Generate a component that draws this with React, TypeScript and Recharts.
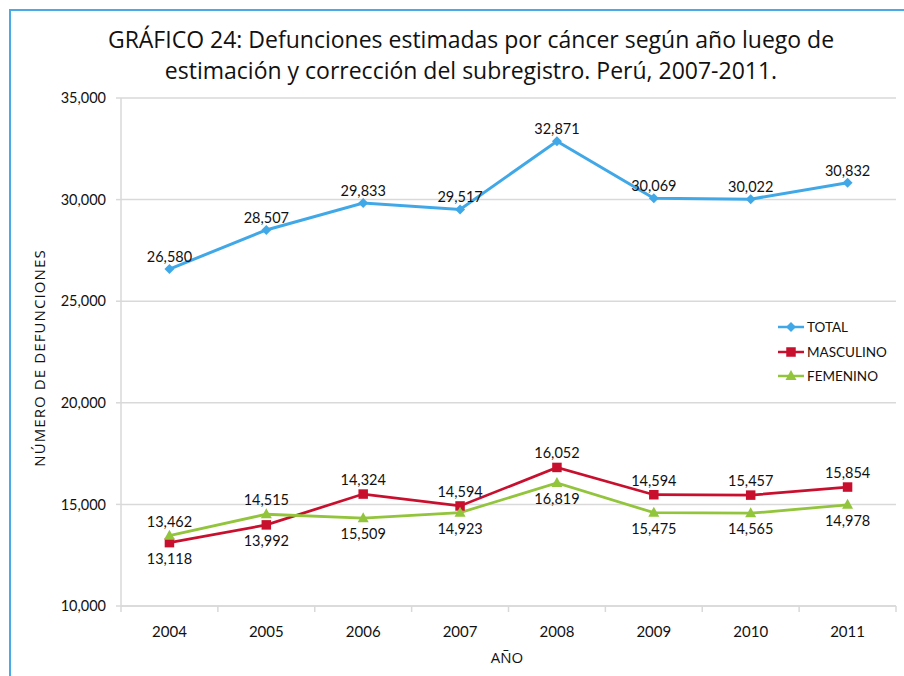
import React from 'react';
import { LineChart, Line, XAxis, YAxis, CartesianGrid, LabelList, Legend } from 'recharts';

const years = ['2004', '2005', '2006', '2007', '2008', '2009', '2010', '2011'];
const total = [26580, 28507, 29833, 29517, 32871, 30069, 30022, 30832];
const masculino = [13118, 13992, 15509, 14923, 16819, 15475, 15457, 15854];
const femenino = [13462, 14515, 14324, 14594, 16052, 14594, 14565, 14978];
const totalLabels = ['26,580', '28,507', '29,833', '29,517', '32,871', '30,069', '30,022', '30,832'];
const masculinoLabels = ['13,118', '13,992', '14,324', '14,594', '16,052', '14,594', '15,457', '15,854'];
const masculinoSides = ['below', 'below', 'above', 'above', 'above', 'above', 'above', 'above'];
const femeninoLabels = ['13,462', '14,515', '15,509', '14,923', '16,819', '15,475', '14,565', '14,978'];
const femeninoSides = ['above', 'above', 'below', 'below', 'below', 'below', 'below', 'below'];
const yTicks = [10000, 15000, 20000, 25000, 30000, 35000];

const titleLines = [
  'GRÁFICO 24: Defunciones estimadas por cáncer según año luego de',
  'estimación y corrección del subregistro. Perú, 2007-2011.',
];
const yTitle = 'NÚMERO DE DEFUNCIONES';
const xTitle = 'AÑO';

const data = years.map((y, i) => ({
  year: y,
  total: total[i],
  masculino: masculino[i],
  femenino: femenino[i],
}));

const W = 904;
const H = 676;
const M = { top: 98, right: 8, bottom: 30, left: 61 };
const Y_W = 60;
const X_H = 40;
const BAND = (W - M.left - Y_W - M.right) / years.length;

const C_TOTAL = '#41A8E8';
const C_MASC = '#C8102E';
const C_FEM = '#92C43C';
const GRID = '#d9d9d9';
const FONT = 'Lato, "Open Sans", sans-serif';
const TFONT = '"Open Sans", sans-serif';

const Diamond = (props: any) => {
  const { cx, cy, fill } = props;
  if (cx == null || cy == null) return null;
  const r = 5;
  return <path d={`M${cx},${cy - r}L${cx + r},${cy}L${cx},${cy + r}L${cx - r},${cy}Z`} fill={fill} />;
};
const Square = (props: any) => {
  const { cx, cy, fill } = props;
  if (cx == null || cy == null) return null;
  const s = 9.5;
  return <rect x={cx - s / 2} y={cy - s / 2} width={s} height={s} fill={fill} />;
};
const Triangle = (props: any) => {
  const { cx, cy, fill } = props;
  if (cx == null || cy == null) return null;
  return <path d={`M${cx},${cy - 6}L${cx + 5.5},${cy + 4}L${cx - 5.5},${cy + 4}Z`} fill={fill} />;
};

const makeLabel = (labels: string[], sides: string[] | null, up: number, down: number) => (p: any) => {
  const { x, y, index } = p;
  if (x == null || y == null) return null;
  const side = sides ? sides[index] : 'above';
  const cy = side === 'above' ? y - up : y + down;
  return (
    <text x={x} y={cy + 5} textAnchor="middle" fontSize={14.5} fill="#111" fontFamily={FONT}>
      {labels[index]}
    </text>
  );
};

const XTick = (props: any) => {
  const { x, y, payload, index } = props;
  const left = x - BAND / 2;
  const right = x + BAND / 2;
  return (
    <g>
      <line x1={left} y1={y} x2={left} y2={y + 6} stroke={GRID} strokeWidth={1.5} />
      {index === years.length - 1 && <line x1={right} y1={y} x2={right} y2={y + 6} stroke={GRID} strokeWidth={1.5} />}
      <text x={x} y={y + 31} textAnchor="middle" fontSize={15} fill="#111" fontFamily={FONT}>
        {payload.value}
      </text>
    </g>
  );
};

const legendItems = [
  { name: 'TOTAL', color: C_TOTAL, shape: 'diamond' },
  { name: 'MASCULINO', color: C_MASC, shape: 'square' },
  { name: 'FEMENINO', color: C_FEM, shape: 'triangle' },
];

const renderLegend = () => (
  <div style={{ fontFamily: FONT, fontSize: 13.5, color: '#111' }}>
    {legendItems.map((it) => (
      <div key={it.name} style={{ display: 'flex', alignItems: 'center', height: 24.5 }}>
        <svg width={28} height={14} style={{ marginRight: 2 }}>
          <line x1={1} y1={7} x2={27} y2={7} stroke={it.color} strokeWidth={2.5} />
          {it.shape === 'diamond' && <Diamond cx={14} cy={7} fill={it.color} />}
          {it.shape === 'square' && <Square cx={14} cy={7} fill={it.color} />}
          {it.shape === 'triangle' && <Triangle cx={14} cy={7} fill={it.color} />}
        </svg>
        <span>{it.name}</span>
      </div>
    ))}
  </div>
);

export default function App() {
  return (
    <div style={{ position: 'absolute', left: 0, top: 0, width: W, height: H, background: '#fff', overflow: 'hidden' }}>
      <div
        style={{
          position: 'absolute',
          left: 9,
          top: 9,
          width: W + 20,
          height: H + 20,
          border: '2px solid #4BA9E6',
          boxSizing: 'border-box',
        }}
      />
      <LineChart width={W} height={H} data={data} margin={M}>
        <CartesianGrid vertical={false} stroke={GRID} strokeWidth={1.5} />
        <XAxis
          dataKey="year"
          height={X_H}
          padding={{ left: BAND / 2, right: BAND / 2 }}
          tickLine={false}
          tickSize={0}
          tickMargin={0}
          axisLine={{ stroke: GRID, strokeWidth: 1.5 }}
          tick={<XTick />}
          interval={0}
        />
        <YAxis
          width={Y_W}
          domain={[10000, 35000]}
          ticks={yTicks}
          tickSize={5}
          tickMargin={10}
          tickLine={{ stroke: GRID, strokeWidth: 1.5 }}
          axisLine={{ stroke: GRID, strokeWidth: 1.5 }}
          tick={{ fontSize: 14.5, fill: '#111', fontFamily: FONT }}
          tickFormatter={(v: number) => v.toLocaleString('en-US')}
        />
        <Legend
          layout="horizontal"
          verticalAlign="middle"
          align="center"
          content={renderLegend}
          wrapperStyle={{ position: 'absolute', left: 777, top: 315, width: 120 }}
        />
        <Line
          type="linear"
          dataKey="total"
          name="TOTAL"
          stroke={C_TOTAL}
          strokeWidth={3}
          dot={<Diamond fill={C_TOTAL} />}
          isAnimationActive={false}
        >
          <LabelList dataKey="total" content={makeLabel(totalLabels, null, 12, 15)} />
        </Line>
        <Line
          type="linear"
          dataKey="masculino"
          name="MASCULINO"
          stroke={C_MASC}
          strokeWidth={2.75}
          dot={<Square fill={C_MASC} />}
          isAnimationActive={false}
        >
          <LabelList dataKey="masculino" content={makeLabel(masculinoLabels, masculinoSides, 14, 16)} />
        </Line>
        <Line
          type="linear"
          dataKey="femenino"
          name="FEMENINO"
          stroke={C_FEM}
          strokeWidth={2.75}
          dot={<Triangle fill={C_FEM} />}
          isAnimationActive={false}
        >
          <LabelList dataKey="femenino" content={makeLabel(femeninoLabels, femeninoSides, 14, 16)} />
        </Line>
      </LineChart>
      <svg width={W} height={H} style={{ position: 'absolute', left: 0, top: 0, pointerEvents: 'none' }}>
        <text x={471} y={48} textAnchor="middle" fontSize={23} fill="#111" fontFamily={TFONT}>
          {titleLines[0]}
        </text>
        <text x={471} y={79} textAnchor="middle" fontSize={23} fill="#111" fontFamily={TFONT}>
          {titleLines[1]}
        </text>
        <text
          x={0}
          y={0}
          transform="translate(45, 358) rotate(-90)"
          textAnchor="middle"
          fontSize={15}
          letterSpacing={1.1}
          fill="#111"
          fontFamily={TFONT}
        >
          {yTitle}
        </text>
        <text x={507} y={663} textAnchor="middle" fontSize={15} fill="#111" fontFamily={TFONT}>
          {xTitle}
        </text>
      </svg>
    </div>
  );
}
